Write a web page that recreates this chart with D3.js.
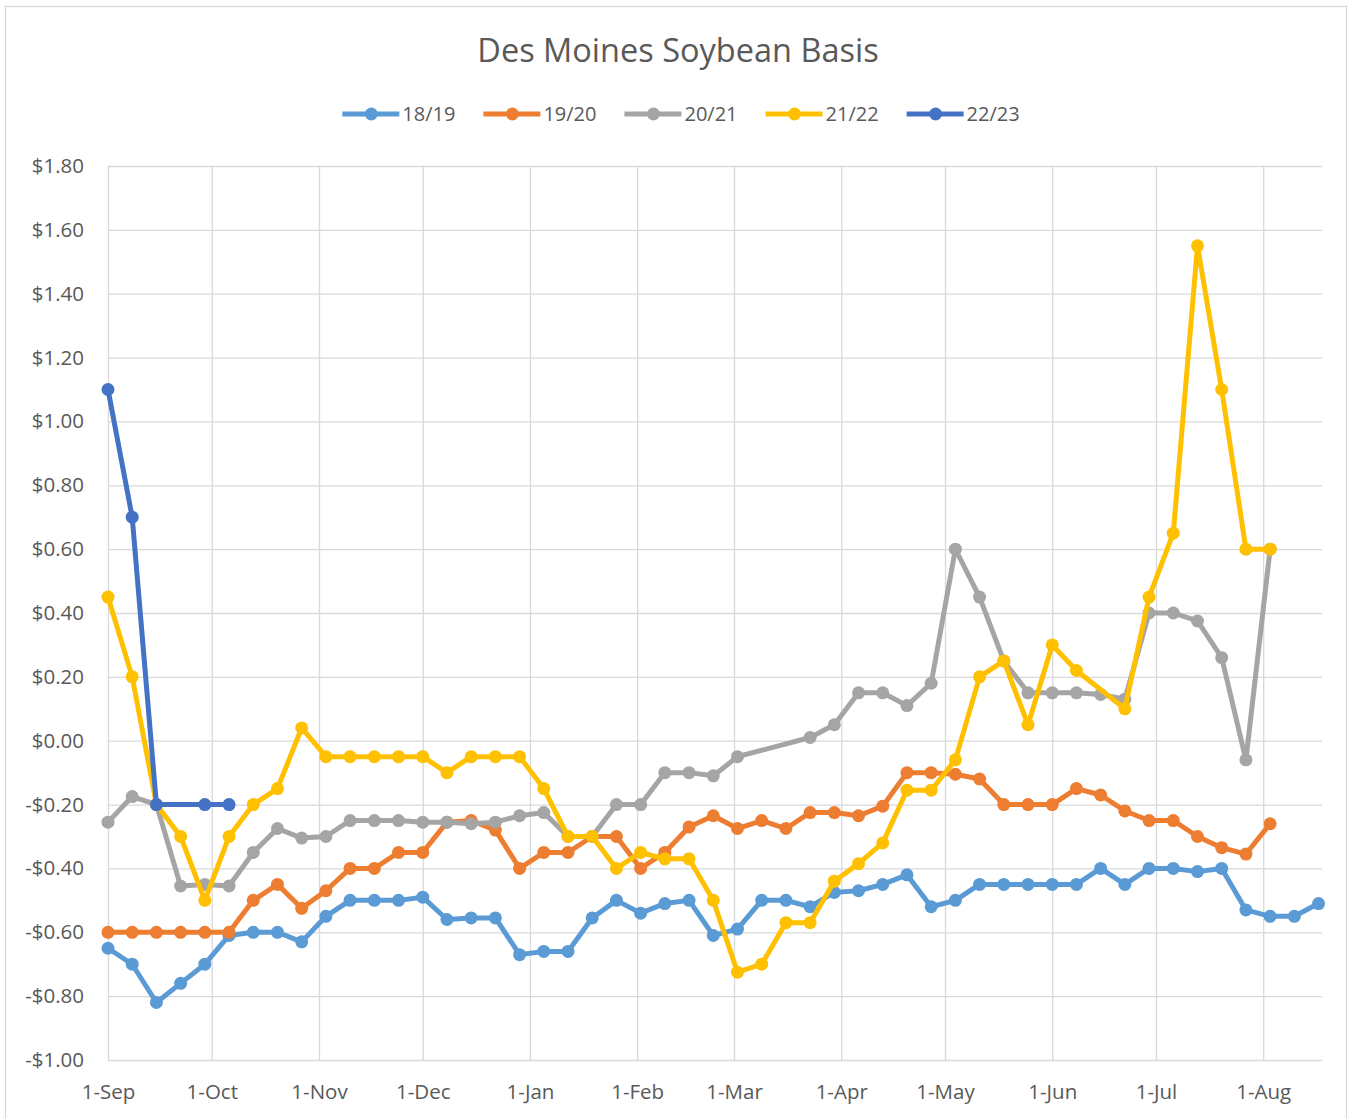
<!DOCTYPE html>
<html lang="en">
<head>
  <meta charset="utf-8">
  <script src="https://cdn.jsdelivr.net/npm/d3@7"></script>
  <style>
    body {
      margin: 0;
      background: #fff;
    }
    #chart text {
      fill: #595959;
      font-family: "Open Sans", "Noto Sans", sans-serif;
    }
    .grid line {
      stroke: #d9d9d9;
      stroke-width: 1.3;
    }
    .grid .domain {
      display: none;
    }
    .series path {
      fill: none;
      stroke-width: 5;
      stroke-linejoin: round;
      stroke-linecap: round;
    }
  </style>
</head>
<body>
  <svg id="chart" width="1352" height="1119"></svg>
  <script>
    // weekly observation dates (one shared calendar, Sep -> Aug)
    var weeks = [
      "2018-09-01","2018-09-08","2018-09-15","2018-09-22","2018-09-29",
      "2018-10-06","2018-10-13","2018-10-20","2018-10-27",
      "2018-11-03","2018-11-10","2018-11-17","2018-11-24",
      "2018-12-01","2018-12-08","2018-12-15","2018-12-22","2018-12-29",
      "2019-01-05","2019-01-12","2019-01-19","2019-01-26",
      "2019-02-02","2019-02-09","2019-02-16","2019-02-23",
      "2019-03-02","2019-03-09","2019-03-16","2019-03-23","2019-03-30",
      "2019-04-06","2019-04-13","2019-04-20","2019-04-27",
      "2019-05-04","2019-05-11","2019-05-18","2019-05-25",
      "2019-06-01","2019-06-08","2019-06-15","2019-06-22","2019-06-29",
      "2019-07-06","2019-07-13","2019-07-20","2019-07-27",
      "2019-08-03","2019-08-10","2019-08-17"
    ];

    var basis1819 = [-0.65,-0.70,-0.82,-0.76,-0.70,-0.61,-0.60,-0.60,-0.63,-0.55,-0.50,-0.50,-0.50,-0.49,
      -0.56,-0.555,-0.555,-0.67,-0.66,-0.66,-0.555,-0.50,-0.54,-0.51,-0.50,-0.61,-0.59,-0.50,-0.50,-0.52,
      -0.475,-0.47,-0.45,-0.42,-0.52,-0.50,-0.45,-0.45,-0.45,-0.45,-0.45,-0.40,-0.45,-0.40,-0.40,-0.41,
      -0.40,-0.53,-0.55,-0.55,-0.51];
    var basis1920 = [-0.60,-0.60,-0.60,-0.60,-0.60,-0.60,-0.50,-0.45,-0.525,-0.47,-0.40,-0.40,-0.35,-0.35,
      -0.255,-0.25,-0.28,-0.40,-0.35,-0.35,-0.30,-0.30,-0.40,-0.35,-0.27,-0.235,-0.275,-0.25,-0.275,-0.225,
      -0.225,-0.235,-0.205,-0.10,-0.10,-0.105,-0.12,-0.20,-0.20,-0.20,-0.15,-0.17,-0.22,-0.25,-0.25,-0.30,
      -0.335,-0.355,-0.26];
    var basis2021 = [-0.255,-0.175,-0.20,-0.455,-0.45,-0.455,-0.35,-0.275,-0.305,-0.30,-0.25,-0.25,-0.25,
      -0.255,-0.255,-0.26,-0.255,-0.235,-0.225,-0.30,-0.30,-0.20,-0.20,-0.10,-0.10,-0.11,-0.05,null,null,
      0.01,0.05,0.15,0.15,0.11,0.18,0.60,0.45,0.25,0.15,0.15,0.15,0.145,0.13,0.40,0.40,0.375,0.26,-0.06,0.60];
    var basis2122 = [0.45,0.20,-0.20,-0.30,-0.50,-0.30,-0.20,-0.15,0.04,-0.05,-0.05,-0.05,-0.05,-0.05,
      -0.10,-0.05,-0.05,-0.05,-0.15,-0.30,-0.30,-0.40,-0.35,-0.37,-0.37,-0.50,-0.725,-0.70,-0.57,-0.57,
      -0.44,-0.385,-0.32,-0.155,-0.155,-0.06,0.20,0.25,0.05,0.30,0.22,null,0.10,0.45,0.65,1.55,1.10,0.60,0.60];
    var basis2223 = [1.10,0.70,-0.20,null,-0.20,-0.20];

    var seriesNames = ["18/19", "19/20", "20/21", "21/22", "22/23"];
    var seriesValues = [basis1819, basis1920, basis2021, basis2122, basis2223];
    var seriesColors = ["#5B9BD5", "#ED7D31", "#A5A5A5", "#FFC000", "#4472C4"];

    var yTicks = [-1.00,-0.80,-0.60,-0.40,-0.20,0.00,0.20,0.40,0.60,0.80,1.00,1.20,1.40,1.60,1.80];
    var axisStart = "2018-09-01", axisEnd = "2019-08-18";

    var svg = d3.select("#chart");
    var plotLeft = 108, plotRight = 1322, plotTop = 166, plotBottom = 1060;
    var parse = d3.timeParse("%Y-%m-%d");

    var x = d3.scaleTime()
      .domain([parse(axisStart), parse(axisEnd)])
      .range([plotLeft, plotRight]);
    var y = d3.scaleLinear()
      .domain([-1, 1.8])
      .range([plotBottom, plotTop]);

    // outer frame
    svg.append("rect")
      .attr("x", 5.5).attr("y", 6.5)
      .attr("width", 1341).attr("height", 1130)
      .attr("fill", "none")
      .attr("stroke", "#d9d9d9")
      .attr("stroke-width", 1.3);

    function money(v) {
      return (v < -0.0001 ? "-" : "") + "$" + Math.abs(v).toFixed(2);
    }

    svg.append("g")
      .attr("class", "grid")
      .attr("transform", "translate(" + plotLeft + ",0)")
      .call(d3.axisLeft(y).tickValues(yTicks).tickFormat(money)
        .tickSize(-(plotRight - plotLeft)).tickPadding(24))
      .selectAll("text")
        .style("font-size", "20.5px");

    svg.append("g")
      .attr("class", "grid")
      .attr("transform", "translate(0," + plotBottom + ")")
      .call(d3.axisBottom(x).ticks(d3.timeMonth.every(1)).tickFormat(d3.timeFormat("%-d-%b"))
        .tickSize(-(plotBottom - plotTop)).tickPadding(24))
      .selectAll("text")
        .style("font-size", "20.5px");

    var line = d3.line()
      .x(function(d) { return x(d.date); })
      .y(function(d) { return y(d.value); });

    seriesValues.forEach(function(vals, k) {
      var pts = vals.map(function(v, i) { return { date: parse(weeks[i]), value: v }; })
        .filter(function(d) { return d.value != null; });
      var g = svg.append("g").attr("class", "series");
      g.append("path")
        .datum(pts)
        .attr("stroke", seriesColors[k])
        .attr("d", line);
      g.selectAll("circle")
        .data(pts)
        .enter().append("circle")
          .attr("cx", function(d) { return x(d.date); })
          .attr("cy", function(d) { return y(d.value); })
          .attr("r", 6.5)
          .attr("fill", seriesColors[k]);
    });

    // title
    svg.append("text")
      .attr("x", 678).attr("y", 62)
      .attr("text-anchor", "middle")
      .style("font-size", "32.5px")
      .text("Des Moines Soybean Basis");

    // legend
    var legend = svg.append("g");
    var cursor = 0;
    seriesNames.forEach(function(name, k) {
      var item = legend.append("g").attr("transform", "translate(" + cursor + ",0)");
      item.append("line")
        .attr("x1", 0).attr("x2", 57).attr("y1", 0).attr("y2", 0)
        .attr("stroke", seriesColors[k]).attr("stroke-width", 5);
      item.append("circle")
        .attr("cx", 29).attr("cy", 0).attr("r", 6.5)
        .attr("fill", seriesColors[k]);
      var t = item.append("text")
        .attr("x", 60).attr("y", 7)
        .style("font-size", "20px")
        .text(name);
      cursor += 60 + t.node().getComputedTextLength() + 28;
    });
    cursor -= 28;
    legend.attr("transform", "translate(" + (681 - cursor / 2) + ",114)");
  </script>
</body>
</html>
